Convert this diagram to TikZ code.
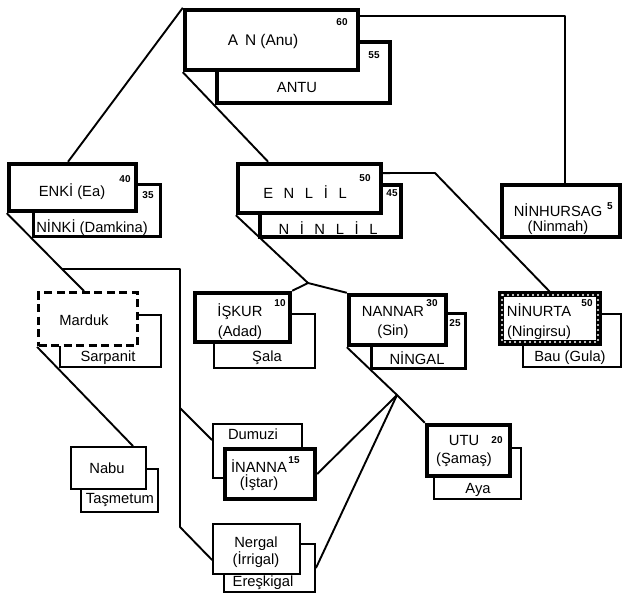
\documentclass[tikz,border=0pt]{standalone}
\usepackage{fontspec}
\setmainfont{Liberation Sans}
\pgfdeclarelayer{bg}
\pgfsetlayers{bg,main}
\begin{document}
\begin{tikzpicture}[x=1bp,y=-1bp,
  lbl/.style={font=\fontsize{14.8}{#1}\selectfont, inner sep=0pt, align=center},
  lbl/.default=17,
  num/.style={font=\fontsize{10}{10}\selectfont\bfseries, inner sep=0pt},
  link/.style={line width=1.9bp, line join=round},
  heavy/.style={draw, fill=white, line width=4.4bp, inner sep=0pt},
  midbox/.style={draw, fill=white, line width=3.4bp, inner sep=0pt},
  thinbox/.style={draw, fill=white, line width=1.9bp, inner sep=0pt},
  dashbox/.style={draw, fill=white, line width=2.8bp, inner sep=0pt, dash pattern=on 8bp off 4.5bp},
  stampbox/.style={draw, fill=white, line width=5.5bp, inner sep=0pt, outer sep=0pt},
  sz/.style 2 args={minimum width=#1bp, minimum height=#2bp},
]
\useasboundingbox (0,0) rectangle (628,603);

% ---- boxes (wives first, then husbands) ----
\node[midbox, sz={173}{61}] (antu) at (303.5,72.5) {};
\node[heavy, sz={173}{60}] (an) at (271.5,40) {};

\node[midbox, sz={127}{52}] (ninki) at (97,210.5) {};
\node[heavy, sz={127}{47}] (enki) at (72.5,187.5) {};

\node[midbox, sz={141}{52}] (ninlil) at (330.5,211) {};
\node[heavy, sz={143}{49}] (enlil) at (309.5,188.5) {};

\node[heavy, sz={118}{52}] (ninhursag) at (561,211) {};

\node[thinbox, sz={101}{54}] (sala) at (264.5,341) {};
\node[heavy, sz={95}{49}] (iskur) at (242.5,317.5) {};

\node[midbox, sz={94}{55}] (ningal) at (418.5,341) {};
\node[heavy, sz={97}{50}] (nannar) at (397.5,320) {};

\node[thinbox, sz={98}{53}] (bau) at (572,340.5) {};
\node[stampbox, sz={98}{49}] (ninurta) at (550,318.5) {};
\draw[white, line width=2.2bp, dash pattern=on 0bp off 5bp, line cap=round]
  ([shift={(1,1)}]ninurta.north west) rectangle ([shift={(-1,-1)}]ninurta.south east);

\node[thinbox, sz={101}{52}] (sarpanit) at (110.5,341) {};
\node[dashbox, sz={99}{53}] (marduk) at (88,319) {};

\node[thinbox, sz={77}{43}] (tasmetum) at (119.5,490.5) {};
\node[thinbox, sz={75}{42}] (nabu) at (108.5,468) {};

\node[thinbox, sz={89}{54}] (dumuzi) at (257.5,451) {};
\node[heavy, sz={90}{50}] (inanna) at (270,474) {};

\node[thinbox, sz={91}{48}] (ereskigal) at (269.5,568) {};
\node[thinbox, sz={87}{50}] (nergal) at (256.5,549) {};

\node[thinbox, sz={87}{51}] (aya) at (477.5,473.5) {};
\node[heavy, sz={83}{51}] (utu) at (468.5,450.5) {};

% ---- labels ----
\node[lbl, font=\fontsize{15.5}{17}\selectfont] (tan) at (263,42) {A\hspace{0.45em}N (Anu)};
\node[num] (n60) at (342,22) {60};
\node[num] (n55) at (374,55) {55};
\node[lbl] (tantu) at (297,88) {ANTU};

\node[lbl] (tenki) at (72,192) {ENKİ (Ea)};
\node[num] (n40) at (125,179) {40};
\node[num] (n35) at (148,195) {35};
\node[lbl] (tninki) at (92,228) {NİNKİ (Damkina)};

\node[lbl] (tenlil) at (305,192) {E\hspace{0.72em}N\hspace{0.72em}L\hspace{0.72em}İ\hspace{0.72em}L};
\node[num] (n50a) at (365,178) {50};
\node[num] (n45) at (392,193) {45};
\node[lbl] (tninlil) at (328,228) {N\hspace{0.72em}İ\hspace{0.72em}N\hspace{0.72em}L\hspace{0.72em}İ\hspace{0.72em}L};

\node[lbl=15] (tninhursag) at (558,219) {NİNHURSAG\\(Ninmah)};
\node[num] (n5) at (610,206) {5};

\node[lbl=20] (tiskur) at (240,322) {İŞKUR\\(Adad)};
\node[num] (n10) at (280,303) {10};
\node[lbl] (tsala) at (267,358) {Şala};

\node[lbl=19] (tnannar) at (393,322.5) {NANNAR\\(Sin)};
\node[num] (n30) at (432,303) {30};
\node[num] (n25) at (455,323) {25};
\node[lbl] (tningal) at (417,358) {NİNGAL};

\node[lbl=20] (tninurta) at (539,322) {NİNURTA\\(Ningirsu)};
\node[num] (n50b) at (587,303) {50};
\node[lbl] (tbau) at (570,358) {Bau (Gula)};

\node[lbl] (tmarduk) at (84,320) {Marduk};
\node[lbl] (tsarpanit) at (108,358) {Sarpanit};

\node[lbl] (tnabu) at (107,468) {Nabu};
\node[lbl] (ttasmetum) at (120,500) {Taşmetum};

\node[lbl] (tdumuzi) at (253,434) {Dumuzi};
\node[lbl=15] (tinanna) at (259,475) {İNANNA\\(İştar)};
\node[num] (n15) at (294,460) {15};

\node[lbl=15] (tnergal) at (256,552) {Nergal\\(İrrigal)};
\node[lbl] (tereskigal) at (263,583) {Ereşkigal};

\node[lbl=18] (tutu) at (464,451) {UTU\\(Şamaş)};
\node[num] (n20) at (497,440) {20};
\node[lbl] (taya) at (478,490) {Aya};

% ---- connectors ----
\coordinate (k1) at (435,173);
\coordinate (j1) at (308,283);
\coordinate (j2) at (62,269);
\coordinate (v1) at (180,269);
\coordinate (v2) at (180,408);
\coordinate (v3) at (180,527);
\coordinate (c1) at (397,395);
\begin{pgfonlayer}{bg}
\draw[link] (an.north west) -- ([xshift=-4.5]enki.north);
\draw[link] (an.south west) -- ([xshift=-41.5]enlil.north);
\draw[link] ([yshift=-8]an.north east) -| ([xshift=4]ninhursag.north);
\draw[link] ([yshift=15.5]enlil.east) -- (k1) -- ([xshift=2]ninurta.north);
\draw[link] (enlil.south west) -- (j1) -- (iskur.north east);
\draw[link] (j1) -- (nannar.north west);
\draw[link] (enki.south west) -- (j2) -- ([xshift=-4]marduk.north);
\draw[link] (j2) -- (v1) -- (v3) -- ([yshift=-11]nergal.west);
\draw[link] (v2) -- ([yshift=11]dumuzi.west);
\draw[link] (marduk.south west) -- ([xshift=-14]nabu.north east);
\draw[link] (nannar.south west) -- (c1) -- (utu.north west);
\draw[link] (c1) -- (inanna.east);
\draw[link] (c1) -- (ereskigal.east);
\end{pgfonlayer}
\end{tikzpicture}
\end{document}
